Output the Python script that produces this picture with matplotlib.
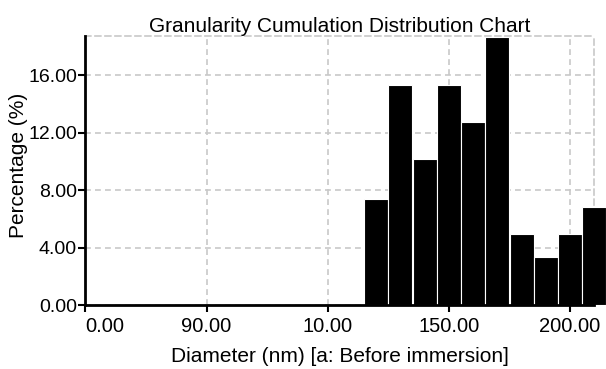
import matplotlib
matplotlib.use("Agg")
import matplotlib.pyplot as plt

plt.rcParams['font.family'] = ['Liberation Sans', 'DejaVu Sans']

# Data
bin_centers = [120, 130, 140, 150, 160, 170, 180, 190, 200, 210]
percentages = [7.38, 15.32, 10.17, 15.32, 12.74, 18.68, 4.94, 3.34, 4.94, 6.82]
x_tick_values = [0, 50, 100, 150, 200]
x_tick_labels = ["0.00", "90.00", "10.00", "150.00", "200.00"]
y_tick_values = [0, 4, 8, 12, 16]
y_tick_labels = ["0.00", "4.00", "8.00", "12.00", "16.00"]

fig = plt.figure(figsize=(6.06, 3.69), dpi=100)
ax = fig.add_axes([0.1408, 0.1734, 0.9807 - 0.1408, 0.9033 - 0.1734])

grid_kw = dict(color='#c8c8c8', linewidth=1.2, linestyle=(0, (3.5, 2.5)))
ax.set_axisbelow(True)
ax.grid(True, **grid_kw)

bars = ax.bar(bin_centers, percentages, width=9.9, color='black',
              edgecolor='white', linewidth=0.8, clip_on=False, zorder=3)

ax.set_xlim(0, 210)
ax.set_ylim(0, 18.75)

ax.set_xticks(x_tick_values)
ax.set_xticklabels(x_tick_labels)
ax.set_yticks(y_tick_values)
ax.set_yticklabels(y_tick_labels)
ax.get_xticklabels()[0].set_horizontalalignment('left')

ax.tick_params(axis='both', direction='out', length=5, width=1.5, color='black',
               labelsize=14.5, pad=1.5)
ax.tick_params(axis='x', pad=3.5)
ax.tick_params(axis='y', labelsize=14, pad=1)

for side in ['top', 'right']:
    ax.spines[side].set_color('#c8c8c8')
    ax.spines[side].set_linestyle((0, (3.5, 2.5)))
    ax.spines[side].set_linewidth(1.2)
for side in ['left', 'bottom']:
    ax.spines[side].set_color('black')
    ax.spines[side].set_linewidth(2)
    ax.spines[side].set_zorder(4)

ax.set_title("Granularity Cumulation Distribution Chart", fontsize=15, pad=3)
ax.set_xlabel("Diameter (nm) [a: Before immersion]", fontsize=15, labelpad=8)
ax.set_ylabel("Percentage (%)", fontsize=15)
ax.yaxis.set_label_coords(-0.113, 0.52)

fig.savefig("out.png", dpi=100)
